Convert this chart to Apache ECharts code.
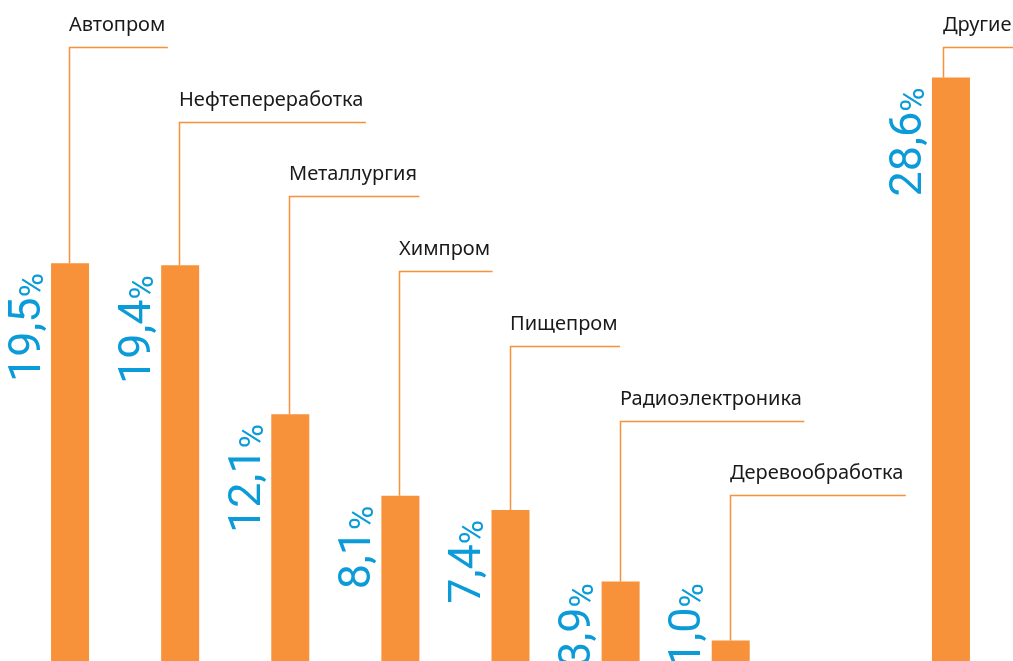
<!DOCTYPE html>
<html>
<head>
<meta charset="utf-8">
<script src="https://cdn.jsdelivr.net/npm/echarts@6/dist/echarts.min.js"></script>
<style>
  html, body { margin: 0; padding: 0; background: #fff; }
  #chart { width: 1013px; height: 661px; }
</style>
</head>
<body>
<div id="chart"></div>
<script>
  // отрасли и доли, %
  const categories = ['Автопром', 'Нефтепереработка', 'Металлургия', 'Химпром', 'Пищепром', 'Радиоэлектроника', 'Деревообработка', 'Другие'];
  const shares = [19.5, 19.4, 12.1, 8.1, 7.4, 3.9, 1.0, 28.6];
  const shareLabels = ['19,5', '19,4', '12,1', '8,1', '7,4', '3,9', '1,0', '28,6'];

  const orange = '#F7913A';
  const blue = '#0A9BD8';

  // "Другие" стоит отдельно, через пустой слот
  const slots = categories.map((c, i) => (i < categories.length - 1 ? i : i + 1));
  const axisData = [];
  const barData = [];
  for (let s = 0; s <= slots[slots.length - 1]; s++) {
    const i = slots.indexOf(s);
    axisData.push(i >= 0 ? categories[i] : '');
    barData.push(i >= 0 ? shares[i] : null);
  }

  const ctx = document.createElement('canvas').getContext('2d');
  ctx.font = '20px "Noto Sans"';
  function textWidth(t) { return ctx.measureText(t).width; }

  const chart = echarts.init(document.getElementById('chart'));
  chart.setOption({
    animation: false,
    grid: { left: 15, right: 7, top: 0, bottom: 0 },
    xAxis: {
      type: 'category',
      data: axisData,
      show: false
    },
    yAxis: {
      type: 'value',
      min: 0,
      max: 32.4,
      show: false
    },
    series: [
      {
        type: 'bar',
        barWidth: 38,
        itemStyle: { color: orange },
        data: barData
      },
      {
        type: 'custom',
        clip: false,
        z: 3,
        data: categories.map((c, i) => [slots[i], shares[i]]),
        renderItem: function (params, api) {
          const i = params.dataIndex;
          const last = i === categories.length - 1;
          const top = api.coord([api.value(0), api.value(1)]);
          const lx = Math.round(top[0] + (last ? -8 : -1)) + 0.5;
          const ly = Math.round(47 + (last ? 0 : i) * 74.7) + 0.5;
          const tw = textWidth(categories[i]);
          const anchor = api.coord([api.value(0), Math.max(api.value(1), 4.3)]);
          return {
            type: 'group',
            children: [
              {
                type: 'polyline',
                shape: { points: [[lx, top[1]], [lx, ly], [lx + tw + 2, ly]] },
                style: { stroke: orange, lineWidth: 1.5, fill: null }
              },
              {
                type: 'text',
                x: lx - 0.5,
                y: ly - 22,
                style: {
                  text: categories[i],
                  fontSize: 20,
                  fontFamily: 'Noto Sans',
                  fill: '#1a1a1a',
                  align: 'left',
                  verticalAlign: 'middle'
                }
              },
              {
                type: 'text',
                x: anchor[0] - 19,
                y: anchor[1] + 10,
                rotation: Math.PI / 2,
                style: {
                  text: '{n|' + shareLabels[i] + '}{p|%}',
                  align: 'right',
                  verticalAlign: 'bottom',
                  rich: {
                    n: { fontSize: 45, lineHeight: 45, fontFamily: 'Roboto', fontWeight: 400, fill: blue },
                    p: { fontSize: 33, lineHeight: 33, fontFamily: 'Roboto', fontWeight: 400, fill: blue, verticalAlign: 'bottom' }
                  }
                }
              }
            ]
          };
        }
      }
    ]
  });
</script>
</body>
</html>
